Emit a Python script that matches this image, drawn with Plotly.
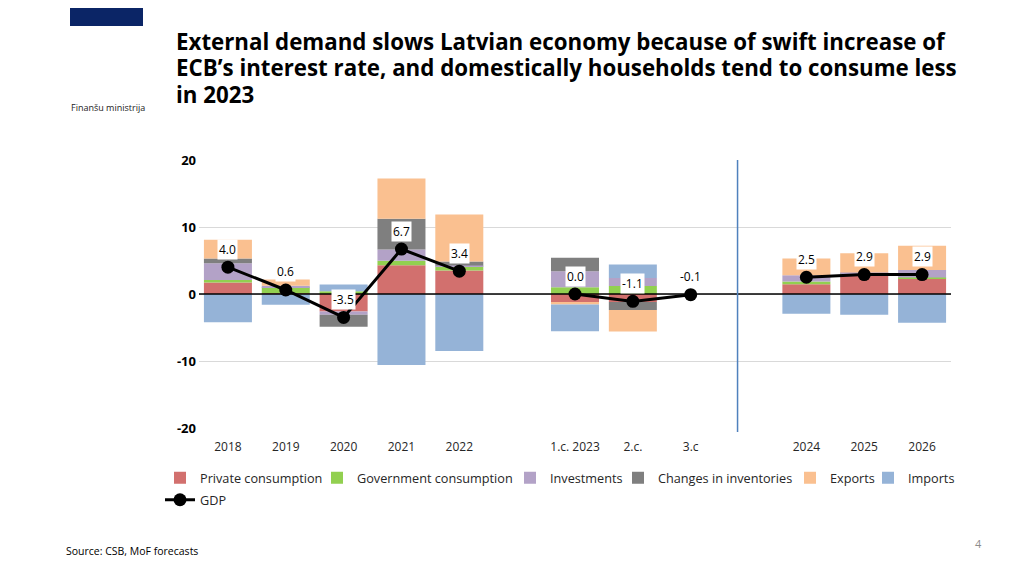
import plotly.graph_objects as go

# Categories (blank slots separate the year groups)
categories = ["2018", "2019", "2020", "2021", "2022", " ", "1.c. 2023", "2.c.", "3.c", "  ", "2024", "2025", "2026"]

private = [1.7, 0.1, -2.6, 4.3, 3.5, None, -1.3, -1.2, None, None, 1.45, 2.95, 2.35]
government = [0.4, 0.9, 0.4, 0.65, 0.65, None, 1.0, 1.2, None, None, 0.4, 0.05, 0.1]
investments = [2.5, 0.25, -0.5, 1.7, 0.1, None, 2.4, 1.2, None, None, 0.95, 0.2, 1.15]
inventories = [0.7, 0.0, -1.8, 4.6, 0.6, None, 2.0, -1.2, None, None, 0.0, 0.0, 0.0]
exports = [2.8, 0.9, 0.0, 6.0, 7.0, None, -0.25, -3.2, None, None, 2.5, 2.9, 3.6]
imports = [-4.2, -1.6, 1.0, -10.6, -8.5, None, -4.0, 2.0, None, None, -2.95, -3.1, -4.3]
gdp = [4.0, 0.6, -3.5, 6.7, 3.4, None, 0.0, -1.1, -0.1, None, 2.5, 2.9, 2.9]

y_ticks = [-20, -10, 0, 10, 20]

title_lines = [
    "External demand slows Latvian economy because of swift increase of",
    "ECB’s interest rate, and domestically households tend to consume less",
    "in 2023",
]

series = [
    ("Private consumption", private, "#D2706E"),
    ("Government consumption", government, "#92D050"),
    ("Investments", investments, "#B3A2C7"),
    ("Changes in inventories", inventories, "#7F7F7F"),
    ("Exports", exports, "#FAC090"),
    ("Imports", imports, "#95B3D7"),
]

FONT = "Open Sans"
OFF = 8  # page body margin of the browser
W, H = 1024 - OFF, 575 - OFF
# plot area, in screen pixels of the reference
L, R, T, B = 199, 951, 160, 428

# legend entries: (screen x where the text starts, screen y of the row top)
legend_pos = [(200, 463), (357, 463), (550, 463), (658, 463), (830, 463), (908, 463), (200, 485)]


def px_x(p):
    return (p - L) / (R - L)


def px_y(p):
    return (B - p) / (B - T)


def legend_key(i):
    return "legend" if i == 0 else f"legend{i + 1}"


fig = go.Figure()
for i, (name, vals, color) in enumerate(series):
    fig.add_trace(
        go.Bar(
            x=categories,
            y=vals,
            name=name,
            marker={"color": color, "line": {"width": 0}},
            legend=legend_key(i),
        )
    )

fig.add_trace(
    go.Scatter(
        x=categories,
        y=gdp,
        name="GDP",
        mode="lines+markers",
        line={"color": "black", "width": 3},
        marker={"color": "black", "size": 13},
        connectgaps=False,
        legend=legend_key(6),
    )
)

# GDP data labels in white boxes (category serial number as x)
for i, v in enumerate(gdp):
    if v is None:
        continue
    fig.add_annotation(
        x=i,
        y=v,
        text=f"{v:.1f}",
        showarrow=False,
        yshift=18,
        font={"family": FONT, "size": 12, "color": "black"},
        bgcolor="white",
        borderpad=1,
    )

# zero line over the bars
fig.add_shape(
    type="line", xref="paper", yref="y", x0=0, x1=1, y0=0, y1=0,
    line={"color": "black", "width": 1.5}, layer="above",
)
# forecast separator
fig.add_shape(
    type="line", xref="x", yref="paper", x0=8.81, x1=8.81, y0=px_y(432), y1=1,
    line={"color": "#4F81BD", "width": 1.5},
)
# logo block
fig.add_shape(
    type="rect", xref="paper", yref="paper",
    x0=px_x(70), x1=px_x(143), y0=px_y(26), y1=px_y(-5),
    fillcolor="#0B2566", line={"width": 0},
)
fig.add_annotation(
    xref="paper", yref="paper", x=px_x(108), y=px_y(107),
    xanchor="center", yanchor="middle",
    text="Finanšu ministrija", showarrow=False,
    font={"family": FONT, "size": 9, "color": "#222"},
)

# title, one annotation per line
for line, yc in zip(title_lines, [42, 68, 95]):
    fig.add_annotation(
        xref="paper", yref="paper", x=px_x(174), y=px_y(yc),
        xanchor="left", yanchor="middle", align="left", showarrow=False,
        text=f"<b>{line}</b>",
        font={"family": FONT, "size": 22.3, "color": "black"},
    )

fig.add_annotation(
    xref="paper", yref="paper", x=px_x(64), y=px_y(551),
    xanchor="left", yanchor="middle", showarrow=False,
    text="Source: CSB, MoF forecasts",
    font={"family": FONT, "size": 10.5, "color": "black"},
)
fig.add_annotation(
    xref="paper", yref="paper", x=px_x(978), y=px_y(543),
    xanchor="center", yanchor="middle", showarrow=False,
    text="4",
    font={"family": FONT, "size": 11, "color": "#8C8C8C"},
)

fig.update_xaxes(
    type="category",
    categoryorder="array",
    categoryarray=categories,
    range=[-0.5, len(categories) - 0.5],
    showgrid=False,
    zeroline=False,
    showline=False,
    ticks="outside",
    ticklen=6,
    tickcolor="rgba(0,0,0,0)",
    tickfont={"family": FONT, "size": 12, "color": "#262626"},
)
fig.update_yaxes(
    range=[-20, 20],
    tickvals=y_ticks,
    ticktext=[f"<b>{t}</b>" for t in y_ticks],
    showgrid=True,
    gridcolor="#D9D9D9",
    gridwidth=1,
    zeroline=False,
    tickfont={"family": FONT, "size": 13, "color": "black"},
)

legend_font = {"family": FONT, "size": 12.7, "color": "#262626"}
legends = {}
for i, (tx, ty) in enumerate(legend_pos):
    legends[legend_key(i)] = {
        "orientation": "h",
        "x": px_x(tx - 40),
        "y": px_y(ty),
        "xanchor": "left",
        "yanchor": "top",
        "font": legend_font,
        "itemwidth": 30,
        "bgcolor": "rgba(0,0,0,0)",
    }

fig.update_layout(
    width=W,
    height=H,
    barmode="relative",
    bargap=0.17,
    plot_bgcolor="white",
    paper_bgcolor="white",
    margin={"l": L - OFF, "r": W - (R - OFF), "t": T - OFF, "b": H - (B - OFF), "pad": 2},
    font={"family": FONT},
    showlegend=True,
    **legends,
)

fig.write_html("out.html")
